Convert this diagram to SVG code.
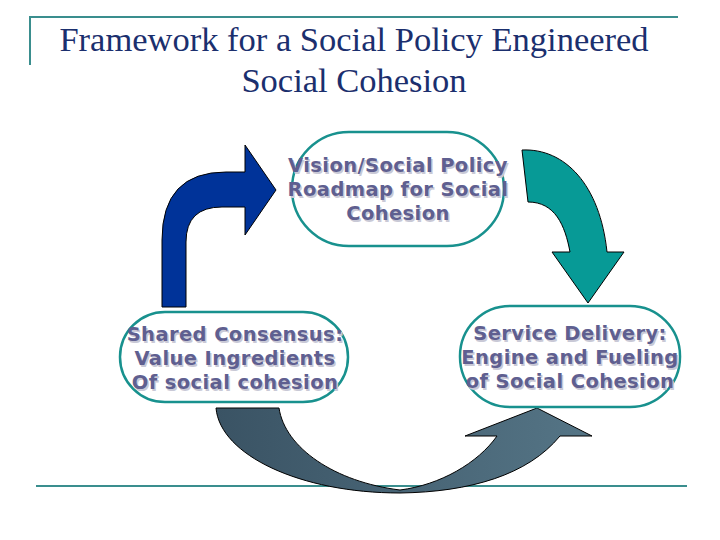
<svg xmlns="http://www.w3.org/2000/svg" width="720" height="540" viewBox="0 0 720 540">
<defs>
<linearGradient id="gBot" x1="0" y1="0" x2="1" y2="0">
<stop offset="0" stop-color="#3a5364"/>
<stop offset="1" stop-color="#557586"/>
</linearGradient>
<style>
.title{font-family:"Liberation Serif","Times New Roman",serif;font-size:34.5px;fill:#1b2f6e;text-anchor:middle}
.frame{stroke:#3a8e8e;stroke-width:2;fill:none}
.node{fill:#fff;stroke:#18918e;stroke-width:2.5}
.lbl{font-family:"DejaVu Sans",Verdana,sans-serif;font-weight:bold;font-size:19.5px;letter-spacing:0.4px;text-anchor:middle;fill:#5f5f90}
.sh{fill:#c9c9d6}
.arr{stroke:#000;stroke-width:1}
</style>
</defs>
<rect width="720" height="540" fill="#fff"/>
<g id="frame">
<path class="frame" d="M30,65 V17 H678"/>
<path class="frame" d="M36,486 H687"/>
</g>
<g id="title">
<text class="title" x="354" y="51">Framework for a Social Policy Engineered</text>
<text class="title" x="354" y="92">Social Cohesion</text>
</g>
<g id="connectors">
<path class="arr" fill="#003399" d="M162,307 L162,240 Q162,172 226,172 L245,172 L245,145 L276,190 L245,235 L245,207 L222,207 Q186,207 186,242 L186,307 Z"/>
<path class="arr" fill="#079a96" d="M522,150 C565,148 600,185 607,252 L624,252 L588,303 L552,252 L570,252 C565,225 555,202 528,202 Z"/>
<path class="arr" fill="url(#gBot)" d="M216,408 L279,408 C285,448 335,482 400,490 C440,485 478,463 497,436 L465,436 L537,408 L592,436 L560,436 C528,475 470,492 400,493 C300,493 220,455 216,408 Z"/>
</g>
<g id="node-vision">
<rect class="node" x="292" y="132" width="212" height="114" rx="57" ry="57"/>
<g transform="translate(1.5,1.5)">
<text class="lbl sh" x="398" y="172">Vision/Social Policy</text>
<text class="lbl sh" x="398" y="196">Roadmap for Social</text>
<text class="lbl sh" x="398" y="220">Cohesion</text>
</g>
<text class="lbl" x="398" y="172">Vision/Social Policy</text>
<text class="lbl" x="398" y="196">Roadmap for Social</text>
<text class="lbl" x="398" y="220">Cohesion</text>
</g>
<g id="node-consensus">
<rect class="node" x="120" y="312" width="228" height="90" rx="45" ry="45"/>
<g transform="translate(1.5,1.5)">
<text class="lbl sh" x="235" y="341">Shared Consensus:</text>
<text class="lbl sh" x="235" y="365">Value Ingredients</text>
<text class="lbl sh" x="235" y="389">Of social cohesion</text>
</g>
<text class="lbl" x="235" y="341">Shared Consensus:</text>
<text class="lbl" x="235" y="365">Value Ingredients</text>
<text class="lbl" x="235" y="389">Of social cohesion</text>
</g>
<g id="node-delivery">
<rect class="node" x="460" y="306" width="220" height="101" rx="50" ry="50"/>
<g transform="translate(1.5,1.5)">
<text class="lbl sh" x="570" y="340">Service Delivery:</text>
<text class="lbl sh" x="570" y="364">Engine and Fueling</text>
<text class="lbl sh" x="570" y="388">of Social Cohesion</text>
</g>
<text class="lbl" x="570" y="340">Service Delivery:</text>
<text class="lbl" x="570" y="364">Engine and Fueling</text>
<text class="lbl" x="570" y="388">of Social Cohesion</text>
</g>
</svg>
